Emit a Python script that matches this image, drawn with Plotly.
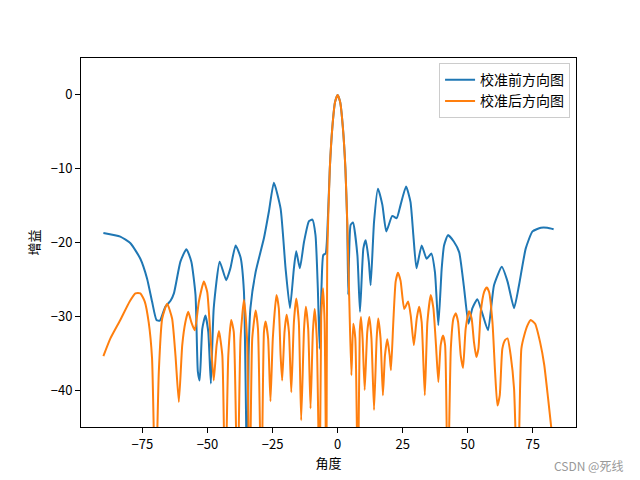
import plotly.graph_objects as go

# 校准前方向图 (blue)
before_angle = [-90, -83.5, -79.6, -75.8, -73.2, -71.3, -69.6, -68.3, -66.2, -64.2, -62.9, -60.4,
                -58.1, -56.2, -54.6, -53.7, -53.0, -52.0, -50.8, -49.7, -48.7, -47.6, -45.3, -42.8,
                -41.2, -39.2, -37.3, -36.0, -34.7, -34.2, -33.5, -31.5, -28.3, -26.4, -24.5, -21.9,
                -20.0, -18.3, -16.8, -15.9, -14.5, -12.9, -11.0, -9.7, -8.5, -7.6, -6.9, -6.2,
                -5.5, -4.6, -4.0, -3.0, -2.0, -1.0, 0.0, 1.0, 2.0, 3.0, 3.7, 4.1,
                5.0, 5.9, 7.6, 8.6, 9.9, 10.8, 12.0, 12.7, 14.0, 15.5, 17.2, 18.7,
                21.0, 22.7, 24.2, 26.3, 28.0, 29.1, 30.3, 32.3, 34.2, 36.0, 37.4, 38.7,
                40.0, 40.9, 42.4, 44.7, 46.7, 48.6, 50.3, 51.8, 53.7, 55.6, 57.8, 60.1,
                63.1, 65.3, 67.8, 69.7, 72.3, 74.9, 78.1, 80.6, 83.0]
before_gain = [-18.7, -19.2, -20.1, -22.2, -24.9, -28.0, -30.5, -30.6, -28.7, -27.9, -26.9, -22.6,
               -20.9, -22.6, -27.1, -37.5, -38.7, -31.7, -29.9, -32.1, -39.1, -28.9, -22.6, -25.1,
               -23.5, -20.4, -22.0, -26.6, -55.0, -35.3, -28.9, -24.0, -19.4, -15.8, -11.9, -15.4,
               -23.5, -28.9, -23.5, -21.2, -23.5, -19.9, -17.1, -16.9, -19.0, -26.2, -34.4, -26.2,
               -21.7, -21.5, -19.0, -10.0, -4.3, -1.0, 0.0, -1.0, -4.3, -10.0, -17.5, -27.1,
               -17.6, -17.3, -21.7, -29.4, -20.8, -19.7, -22.6, -25.8, -17.2, -12.7, -14.9, -18.5,
               -16.4, -16.7, -14.9, -12.4, -14.5, -19.0, -23.5, -20.4, -22.2, -21.5, -24.0, -31.2,
               -23.5, -20.4, -19.0, -19.9, -21.3, -26.2, -31.0, -28.9, -27.7, -29.6, -31.9, -25.8,
               -23.3, -25.3, -28.9, -25.8, -20.8, -18.5, -18.0, -18.0, -18.2]

# 校准后方向图 (orange)
after_angle = [-90, -87.3, -83.5, -79.9, -77.7, -75.8, -74.1, -72.6, -71.3, -70.0, -68.7, -67.4,
               -65.5, -63.6, -62.3, -61.0, -59.7, -58.5, -57.4, -56.2, -54.9, -53.3, -51.4, -50.1,
               -48.8, -47.6, -46.5, -45.6, -44.3, -43.2, -42.0, -40.9, -39.9, -38.5, -37.3, -36.0,
               -34.8, -33.8, -32.8, -31.5, -30.6, -29.3, -28.3, -27.7, -26.7, -25.8, -24.9, -23.5,
               -22.6, -21.9, -21.3, -20.4, -19.6, -18.7, -17.8, -16.8, -15.9, -14.9, -14.0, -12.9,
               -12.2, -11.3, -10.4, -9.5, -8.8, -8.0, -6.9, -6.3, -5.6, -5.0, -4.3, -4.0,
               -3.0, -2.0, -1.0, 0.0, 1.0, 2.0, 3.0, 3.7, 4.5, 5.3, 6.0, 6.8,
               7.8, 8.5, 9.0, 9.6, 10.4, 11.4, 12.2, 13.0, 14.0, 15.0, 15.6, 16.5,
               17.4, 18.2, 19.1, 20.0, 20.5, 21.4, 22.3, 23.2, 24.2, 25.6, 27.1, 28.1,
               29.3, 30.4, 31.3, 32.3, 33.5, 34.5, 35.8, 36.8, 37.8, 38.7, 39.6, 40.5,
               41.3, 42.3, 43.5, 44.5, 45.4, 46.3, 47.3, 48.2, 49.2, 50.5, 51.5, 52.4,
               53.3, 54.1, 55.0, 56.3, 57.3, 58.2, 59.5, 60.5, 61.4, 62.3, 63.3, 64.4,
               65.3, 66.5, 67.8, 69.2, 70.6, 71.7, 73.0, 74.2, 75.9, 77.8, 79.4, 80.9, 83.0]
after_gain = [-35.4, -33.0, -30.5, -28.0, -26.9, -26.9, -28.0, -30.8, -35.7, -55.0, -37.5, -30.3,
              -28.3, -30.3, -35.3, -41.6, -33.9, -30.8, -29.4, -30.8, -31.9, -28.0, -25.3, -26.7,
              -33.0, -38.7, -33.9, -32.0, -35.3, -55.0, -35.3, -30.5, -32.1, -55.0, -33.0, -27.8,
              -33.0, -55.0, -33.0, -29.2, -31.7, -55.0, -32.1, -30.7, -33.0, -41.5, -33.0, -27.1,
              -28.9, -35.3, -38.7, -32.1, -29.8, -32.1, -40.3, -30.8, -27.6, -30.8, -44.1, -31.7,
              -28.7, -31.7, -42.5, -32.1, -29.0, -33.0, -55.0, -30.0, -26.2, -30.8, -55.0, -22.0,
              -10.0, -4.3, -1.0, 0.0, -1.0, -4.3, -10.0, -17.2, -28.0, -38.0, -31.0, -33.0,
              -55.0, -32.1, -30.1, -33.0, -40.0, -32.1, -30.1, -33.0, -42.7, -33.0, -30.3, -33.0,
              -40.7, -35.3, -33.1, -35.3, -37.3, -30.8, -25.3, -24.1, -25.2, -29.0, -28.0, -29.9,
              -33.9, -30.3, -28.7, -30.8, -40.7, -30.8, -27.1, -28.9, -33.9, -38.9, -33.9, -32.6,
              -33.9, -55.0, -34.4, -30.3, -29.6, -30.8, -35.3, -37.0, -31.7, -29.3, -30.3, -33.5,
              -35.5, -34.4, -29.4, -26.7, -26.1, -26.7, -30.8, -37.5, -42.1, -40.7, -34.4, -33.2,
              -33.0, -35.3, -39.8, -55.0, -34.4, -32.6, -31.2, -30.5, -31.0, -33.5, -36.6, -41.2, -48.0]

x_ticks = [-75, -50, -25, 0, 25, 50, 75]
y_ticks = [-40, -30, -20, -10, 0]

FONT = "Noto Sans CJK SC"

fig = go.Figure()
fig.add_trace(go.Scatter(x=before_angle, y=before_gain, mode="lines", name="校准前方向图",
                         line=dict(color="#1f77b4", width=2, shape="spline", smoothing=0.5)))
fig.add_trace(go.Scatter(x=after_angle, y=after_gain, mode="lines", name="校准后方向图",
                         line=dict(color="#ff7f0e", width=2, shape="spline", smoothing=0.5)))

axis_common = dict(showline=True, linecolor="black", linewidth=1, mirror=True,
                   ticks="outside", ticklen=5, tickwidth=1, tickcolor="black",
                   showgrid=False, zeroline=False,
                   tickfont=dict(family=FONT, size=13, color="black"))

# page body has an 8px margin, so the figure is offset by (8, 8)
fig.update_layout(
    width=632, height=472,
    margin=dict(l=73, r=64, t=50, b=53),
    paper_bgcolor="white", plot_bgcolor="white",
    font=dict(family=FONT, size=13, color="black"),
    xaxis=dict(range=[-98.6, 91.6], tickvals=x_ticks,
               title=dict(text="角度", font=dict(family=FONT, size=13), standoff=6),
               **axis_common),
    yaxis=dict(range=[-45, 5], tickvals=y_ticks,
               title=dict(text="增益", font=dict(family=FONT, size=13), standoff=8),
               **axis_common),
    legend=dict(x=0.988, y=0.986, xanchor="right", yanchor="top",
                bgcolor="rgba(255,255,255,0.8)", bordercolor="#cccccc", borderwidth=1,
                font=dict(family=FONT, size=14), itemwidth=30, tracegroupgap=2),
    showlegend=True,
)

fig.add_annotation(text="CSDN @死线", xref="paper", yref="paper", x=1.099, y=-0.105,
                   xanchor="right", yanchor="middle", showarrow=False,
                   font=dict(family=FONT, size=12, color="#999999"))

fig.write_html("out.html")
